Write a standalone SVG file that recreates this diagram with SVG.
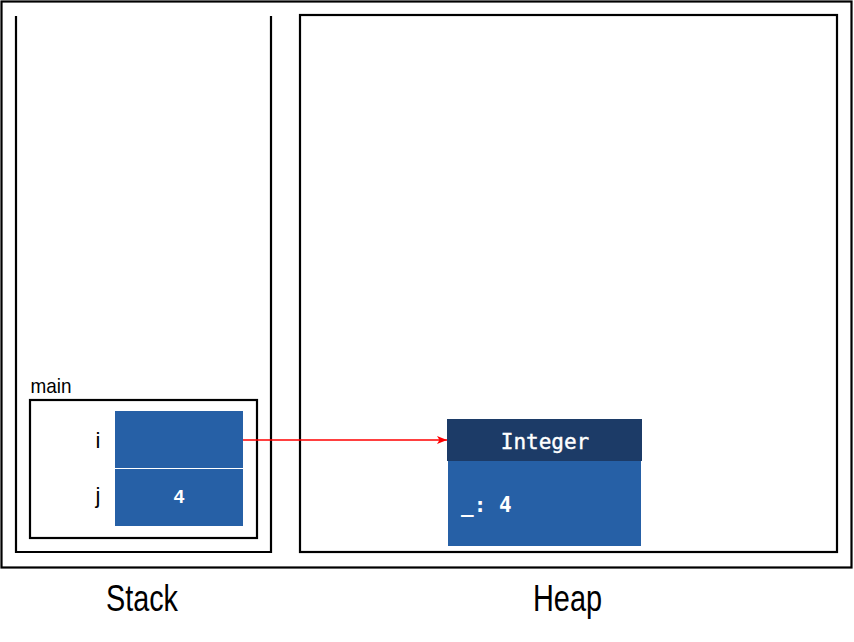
<svg xmlns="http://www.w3.org/2000/svg" width="854" height="642" viewBox="0 0 854 642">
<defs>
<style>
.frame{fill:none;stroke:#000;stroke-width:2.2}
.cell{fill:#2660a6}
.lbl{font-family:"Liberation Sans",Arial,sans-serif;fill:#000}
.mono{font-family:"DejaVu Sans Mono","Liberation Mono",monospace;fill:#fff}
</style>
<marker id="ah" markerWidth="10" markerHeight="8" refX="10" refY="4" orient="auto" markerUnits="userSpaceOnUse">
<path d="M0,0 L10,4 L0,8 L2.5,4 Z" fill="#ff0000"/>
</marker>
</defs>
<rect width="854" height="642" fill="#fff"/>
<g id="outer"><rect class="frame" x="1.5" y="1.5" width="850" height="566"/></g>
<g id="stack">
<polyline class="frame" points="16,16 16,552 271,552 271,16"/>
<text class="lbl" x="106" y="611" font-size="36" textLength="72" lengthAdjust="spacingAndGlyphs">Stack</text>
</g>
<g id="heap">
<rect class="frame" x="300" y="15" width="537" height="537"/>
<text class="lbl" x="533" y="611" font-size="36" textLength="69" lengthAdjust="spacingAndGlyphs">Heap</text>
</g>
<g id="main">
<rect class="frame" x="30" y="400" width="227" height="138"/>
<text class="lbl" x="30.5" y="392.5" font-size="21" textLength="41" lengthAdjust="spacingAndGlyphs">main</text>
</g>
<g id="var-i">
<rect class="cell" x="115" y="411" width="128" height="57"/>
<text class="lbl" x="98" y="448" font-size="22" text-anchor="middle">i</text>
</g>
<g id="var-j">
<rect class="cell" x="115" y="469" width="128" height="57"/>
<text class="lbl" x="98" y="503" font-size="22" text-anchor="middle">j</text>
<text x="179" y="503" font-size="19" font-weight="bold" text-anchor="middle" fill="#fff" font-family="Liberation Sans, Arial, sans-serif">4</text>
</g>
<g id="integer">
<rect x="447" y="419" width="195" height="42" fill="#1c3b67"/>
<rect x="448" y="461" width="193" height="85" fill="#2660a6"/>
<text class="mono" x="545" y="449" font-size="21" text-anchor="middle" stroke="#fff" stroke-width="0.4">Integer</text>
<text class="mono" x="461" y="512" font-size="21" font-weight="bold">_: 4</text>
</g>
<g id="connectors">
<line x1="243" y1="440" x2="447" y2="440" stroke="#ff0000" stroke-width="1.6" marker-end="url(#ah)"/>
</g>
</svg>
